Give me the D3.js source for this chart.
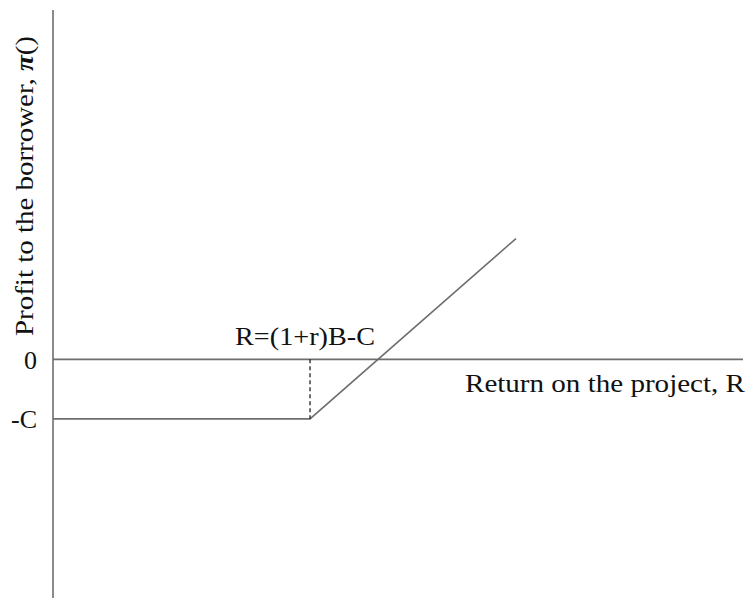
<!DOCTYPE html>
<html lang="en">
<head>
    <meta charset="UTF-8">
    <title>Profit to the borrower</title>
    <script src="https://d3js.org/d3.v7.min.js"></script>
    <style>
body {
    margin: 0;
    background: #fff;
}

svg {
    display: block;
    font-family: "Liberation Serif", "Times New Roman", serif;
}
    </style>
</head>
<body>
    <svg id="chart" width="749" height="598"></svg>

    <script>
const width = 749;
const height = 598;

// payoff to the borrower: flat at -C until the kink, then rising
const returnR = [0, 37.25, 67.1];
const profitPi = [-1, -1, 2.03];
const kinkR = 37.25;

const yTickValues = [0, -1];
const yTickLabels = ["0", "-C"];

const xScale = d3.scaleLinear().domain([0, 100]).range([53, 743]);
const yScale = d3.scaleLinear().domain([-4.01, 5.87]).range([598, 10]);

const svg = d3.select("#chart");

// axes
svg.append("line")
    .attr("x1", xScale(0)).attr("x2", xScale(0))
    .attr("y1", yScale(5.87)).attr("y2", yScale(-4.01))
    .attr("stroke", "#6e6e6e")
    .attr("stroke-width", 1.6);

svg.append("line")
    .attr("x1", xScale(0)).attr("x2", xScale(100))
    .attr("y1", yScale(0)).attr("y2", yScale(0))
    .attr("stroke", "#6e6e6e")
    .attr("stroke-width", 1.6);

// tick labels on the left
svg.selectAll(".ytick")
    .data(yTickValues)
    .join("text")
    .attr("class", "ytick")
    .attr("x", 37)
    .attr("y", d => yScale(d))
    .attr("dy", "0.36em")
    .attr("text-anchor", "end")
    .attr("font-size", 26)
    .attr("fill", "#111")
    .text((d, i) => yTickLabels[i]);

// payoff line
const line = d3.line()
    .x((d, i) => xScale(returnR[i]))
    .y(d => yScale(d));

svg.append("path")
    .datum(profitPi)
    .attr("fill", "none")
    .attr("stroke", "#6e6e6e")
    .attr("stroke-width", 1.6)
    .attr("d", line);

// dashed drop at the kink
svg.append("line")
    .attr("x1", xScale(kinkR)).attr("x2", xScale(kinkR))
    .attr("y1", yScale(0)).attr("y2", yScale(-1))
    .attr("stroke", "#111")
    .attr("stroke-width", 1.2)
    .attr("stroke-dasharray", "4,3");

svg.append("text")
    .attr("x", xScale(kinkR) - 75)
    .attr("y", yScale(0) - 14)
    .attr("font-size", 26)
    .attr("fill", "#111")
    .attr("textLength", 140)
    .attr("lengthAdjust", "spacingAndGlyphs")
    .text("R=(1+r)B-C");

// axis titles
svg.append("text")
    .attr("x", 465)
    .attr("y", 392)
    .attr("font-size", 26)
    .attr("fill", "#111")
    .attr("textLength", 280)
    .attr("lengthAdjust", "spacingAndGlyphs")
    .text("Return on the project, R");

const yTitle = svg.append("text")
    .attr("transform", "translate(33,186) rotate(-90)")
    .attr("text-anchor", "middle")
    .attr("font-size", 26)
    .attr("fill", "#111")
    .attr("textLength", 300)
    .attr("lengthAdjust", "spacingAndGlyphs");
yTitle.append("tspan").text("Profit to the borrower, ");
yTitle.append("tspan").attr("font-style", "italic").attr("font-weight", "bold").text("\u03c0");
yTitle.append("tspan").text("()");
    </script>
</body>
</html>
